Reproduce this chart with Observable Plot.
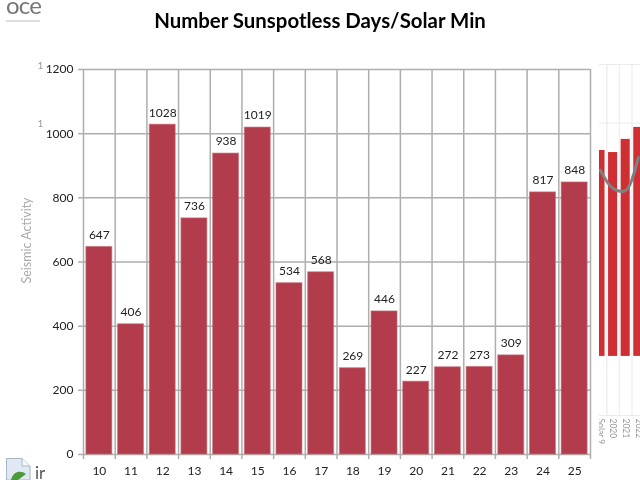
<!DOCTYPE html>
<html><head><meta charset="utf-8">
<script src="https://cdn.jsdelivr.net/npm/d3@7"></script>
<script src="https://cdn.jsdelivr.net/npm/@observablehq/plot@0.6"></script>
<style>
html,body{margin:0;padding:0;background:#fff;width:640px;height:480px;overflow:hidden}
#stage{position:relative;width:640px;height:480px;overflow:hidden;filter:blur(.45px)}
#main,#inset{position:absolute;top:0}
#main{left:0}
#inset{left:599px}
#oce{position:absolute;left:6px;top:-10px;font:24px Lato,sans-serif;letter-spacing:-.8px;color:#777;border-bottom:2px solid #ddd;padding-bottom:0;line-height:30px;width:34px}
#broken{position:absolute;left:5px;top:456px}
</style></head><body>
<div id="stage">
<div id="oce">oce</div>
<div id="main"></div>
<div id="inset"></div>
<svg id="broken" width="45" height="24" viewBox="0 0 45 24">
<path d="M1.500 2.500H17L25 10V24H1.500Z" fill="#dfe8f3" stroke="#a9b6c6"/>
<path d="M17 2.500V10H25" fill="#f4f7fb" stroke="#a9b6c6"/>
<path d="M6 24C8 15 16 14 21 18L13 24Z" fill="#4d9a3c"/>
<text x="30" y="23" font-family="Lato,sans-serif" font-size="17" fill="#555">ir</text>
</svg>
</div>
<script>
const cycles = [10,11,12,13,14,15,16,17,18,19,20,21,22,23,24,25];
const days = [647,406,1028,736,938,1019,534,568,269,446,227,272,273,309,817,848];
const yTicks = [0,200,400,600,800,1000,1200];
const edges = [...cycles.map(c => c - 0.5), 25.5];
const table = cycles.map((c,i) => ({c, v: days[i]}));
const font = "Lato, 'Open Sans', sans-serif";
const gridColor = "#aeaeae";

const main = Plot.plot({
  width: 640, height: 480,
  marginLeft: 83, marginRight: 50, marginTop: 69, marginBottom: 26,
  style: {background: "transparent", fontFamily: font, fontSize: "11.5px", color: "#222"},
  x: {domain: [9.5, 25.5], label: null},
  y: {domain: [0, 1200], label: null},
  marks: [
    Plot.ruleY(yTicks, {stroke: gridColor, strokeWidth: 1.5}),
    Plot.ruleX(edges, {stroke: gridColor, strokeWidth: 1.5}),
    Plot.axisY({ticks: yTicks, tickSize: 5, tickPadding: 5, stroke: gridColor, strokeWidth: 1.5, label: null, tickFormat: d => String(d), fontSize: 12}),
    Plot.axisX({ticks: edges, tickSize: 5, tickFormat: () => "", stroke: gridColor, strokeWidth: 1.5, label: null}),
    Plot.text(cycles, {x: d => d, y: 0, dy: 17, text: d => String(d), fontSize: 12, fill: "#222"}),
    Plot.rectY(table, {x1: d => d.c - 0.41, x2: d => d.c + 0.41, y: "v", fill: "#b23c4b", stroke: "#c8727c", strokeOpacity: 0.6, strokeWidth: 1}),
    Plot.text(table, {x: "c", y: "v", text: d => String(d.v), dy: -12, fontSize: 12, fill: "#222"}),
    Plot.text(["Number Sunspotless Days/Solar Min"], {frameAnchor: "top", dx: -17, dy: -56, fontSize: 20.4, fontWeight: "bold", fill: "#000"}),
    Plot.text(["Seismic Activity"], {frameAnchor: "middle", y: 667, dx: -310, rotate: -90, fontSize: 12.5, fill: "#aaa"}),
    Plot.text(["1","1"], {frameAnchor: "left", y: [1212, 1030], dx: -46, fontSize: 10, fill: "#999"})
  ]
});
document.getElementById("main").append(main);

const years = [2019,2020,2021,2022];
const yearLabels = ["Solar 9","2020","2021","2022"];
const barTop = [906,899,944,985];
const barBase = 202;
const lineVals = [838,776,769,882];
const insetGrid = [1000,1200];
const insetData = years.map((y,i) => ({y, top: barTop[i], line: lineVals[i], label: yearLabels[i]}));
const inset = Plot.plot({
  width: 41, height: 480,
  marginLeft: 0, marginRight: 0, marginTop: 64, marginBottom: 65,
  style: {background: "transparent", fontFamily: font},
  x: {domain: [2019, 2022], range: [1, 38.8], axis: null},
  y: {domain: [0, 1200], axis: null},
  marks: [
    Plot.ruleX(years.map(y => y + 0.5), {stroke: "#f0f0f0", strokeWidth: 1.5}),
    Plot.ruleY([0, ...insetGrid], {stroke: "#ebebeb"}),
    Plot.rectY(insetData, {x1: d => d.y - 0.36, x2: d => d.y + 0.36, y1: barBase, y2: "top", fill: "#cf2f33"}),
    Plot.line(insetData, {x: "y", y: "line", stroke: "#808080", strokeWidth: 3, curve: "catmull-rom"}),
    Plot.text(insetData, {x: "y", y: 0, text: "label", rotate: 90, textAnchor: "start", dy: 3, dx: 0, fontSize: 8.5, fill: "#999"})
  ]
});
document.getElementById("inset").append(inset);
</script>
</body></html>
